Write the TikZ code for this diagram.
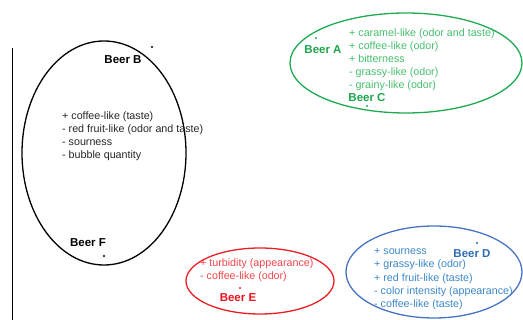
\documentclass[tikz,border=0pt]{standalone}
\usepackage{fontspec}
\setmainfont{Liberation Sans}
\usepackage{xcolor}
\usetikzlibrary{positioning}
\definecolor{GreenLine}{RGB}{30,170,80}
\definecolor{GreenText}{RGB}{70,190,110}
\definecolor{GreenDark}{RGB}{30,165,75}
\definecolor{RedLine}{RGB}{235,30,35}
\definecolor{RedText}{RGB}{240,70,75}
\definecolor{RedDark}{RGB}{230,20,30}
\definecolor{BlueLine}{RGB}{70,115,195}
\definecolor{BlueText}{RGB}{60,135,200}
\definecolor{BlueDark}{RGB}{45,110,180}

\begin{document}
\begin{tikzpicture}[x=1pt,y=-1pt,
        grp/.style={draw,line width=1.3pt},
        beer/.style={font=\fontsize{11.5}{13}\selectfont\bfseries,inner sep=0pt},
        attr/.style={font=\fontsize{10.7}{13.1}\selectfont,align=left,
                     anchor=north west,inner sep=0pt},
        pt/.style={circle,fill,inner sep=0pt,minimum size=2.2pt}
      ]
        \useasboundingbox (0,0) rectangle (523,320);
        % axis
        \coordinate (ax1) at (12,48);
        \coordinate (ax2) at (12,320);
        \draw[black,line width=0.8pt] (ax1) -- (ax2);
        % black group
        \draw[grp,black] (104,153) ellipse [x radius=82,y radius=112];
        \node[pt] (pB) at (152,47) {};
        \node[beer] (B) at (123,60) {Beer B};
        \node[attr,black!85] (tB) at (62,111.5)
          {+ coffee-like (taste)\\- red fruit-like (odor and taste)\\
           - sourness\\- bubble quantity};
        \node[beer] (F) at (88,243) {Beer F};
        \node[pt] (pF) at (104,256) {};
        % green group
        \draw[grp,GreenLine] (406,63) ellipse [x radius=116,y radius=50];
        \node[pt,GreenLine] (pA) at (316,38) {};
        \node[beer,GreenDark] (A) at (323,50) {Beer A};
        \node[attr,GreenText] (tA) at (349,28.5)
          {+ caramel-like (odor and taste)\\+ coffee-like (odor)\\
           + bitterness\\- grassy-like (odor)\\- grainy-like (odor)};
        \node[beer,GreenDark] (C) at (367,98) {Beer C};
        \node[pt,GreenLine] (pC) at (367,106) {};
        % red group
        \draw[grp,RedLine] (260,281) ellipse [x radius=74,y radius=33];
        \node[attr,RedText] (tE) at (200,258.5)
          {+ turbidity (appearance)\\- coffee-like (odor)};
        \node[pt,RedLine] (pE) at (240,288) {};
        \node[beer,RedDark] (E) at (238,298) {Beer E};
        % blue group
        \draw[grp,BlueLine] (434,272) ellipse [x radius=88,y radius=46];
        \node[attr,BlueText] (tD) at (374,248.5)
          {+ sourness\\+ grassy-like (odor)\\+ red fruit-like (taste)\\
           - color intensity (appearance)\\- coffee-like (taste)};
        \node[pt,BlueDark] (pD) at (477,243) {};
        \node[beer,BlueDark] (D) at (472,254) {Beer D};
      \end{tikzpicture}
\end{document}
